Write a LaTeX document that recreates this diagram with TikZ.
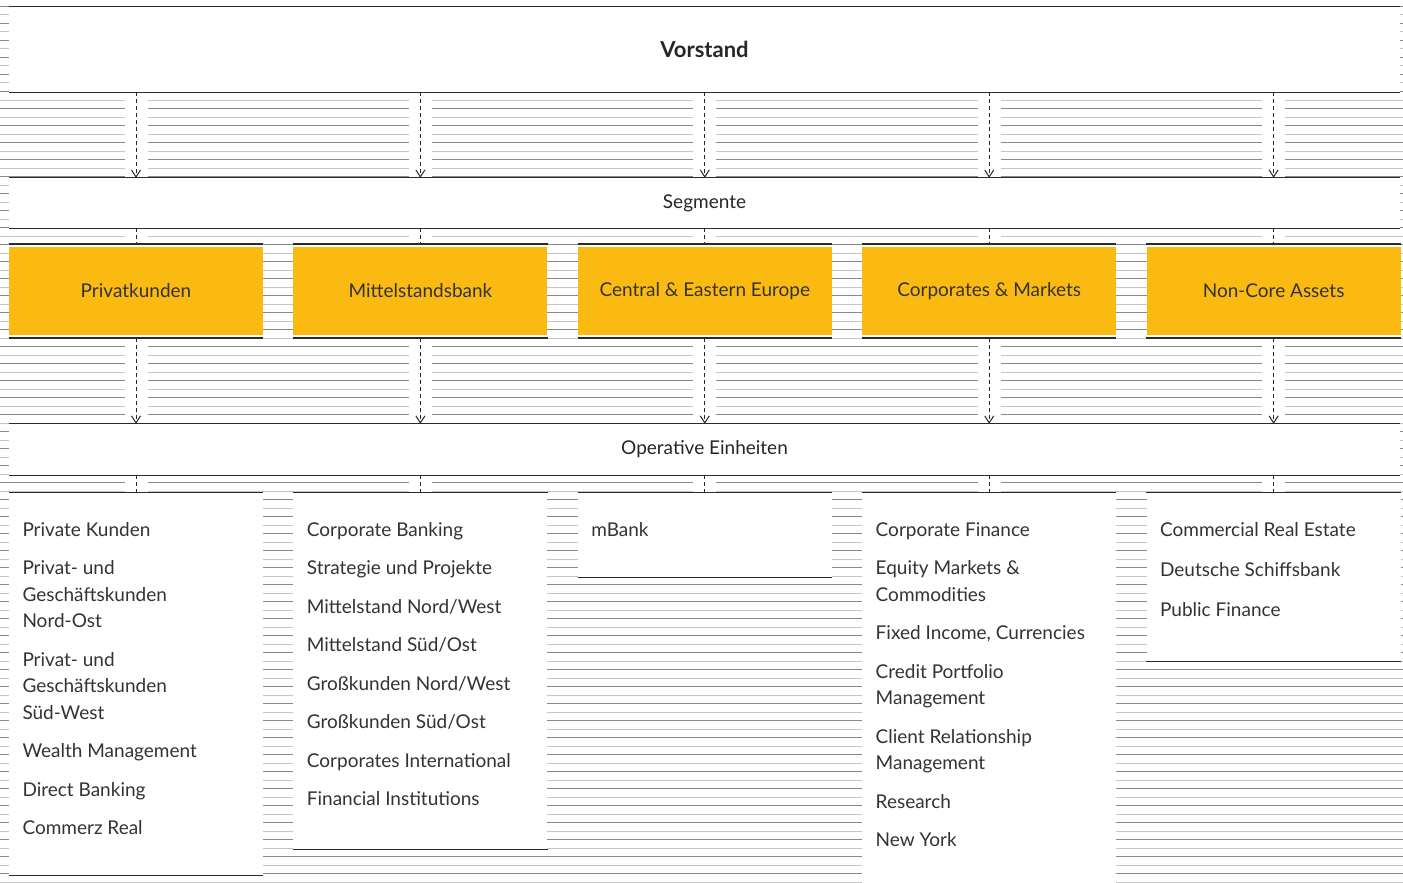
\documentclass[tikz,border=0pt]{standalone}
\usepackage{fontspec}
\setmainfont{Lato}
\usepackage{xcolor}
\usepackage{tikz}
\usetikzlibrary{arrows.meta,positioning,calc}

\definecolor{cbyellow}{HTML}{FBBA12}
\definecolor{hatchlight}{HTML}{C4C4C4}
\definecolor{hatchdark}{HTML}{8A8A8A}
\definecolor{rulegray}{HTML}{2A2A2A}

\begin{document}
\begin{tikzpicture}[x=1pt, y=-1pt, font=\fontsize{19}{26.5}\selectfont,
    band/.style={rectangle, fill=white, inner sep=0pt, minimum width=1391pt, text=black!85},
    unit/.style={rectangle, fill=cbyellow, inner sep=0pt, minimum width=254pt, minimum height=88pt, outer ysep=3pt, text=black!80},
    colbox/.style={rectangle, fill=white, inner sep=0pt, minimum width=254pt, anchor=north},
    coltext/.style={align=left, inner sep=0pt, anchor=north west, text=black!80},
    rule/.style={draw=rulegray, line width=1.2pt},
    flow/.style={draw=black!85, line width=1pt, dash pattern=on 4pt off 3pt,
        preaction={draw=white, solid, line width=23pt, arrows=-}}]

    \useasboundingbox (0,0) rectangle (1403,883);

    % Hatched background
    \foreach \k in {0,...,103}{
        \ifodd\k \def\hc{hatchlight}\else \def\hc{hatchdark}\fi
        \draw[\hc, line width=1pt] (0,{6.5+8.5*\k}) -- (1403,{6.5+8.5*\k});
    }

    % Top levels
    \node[band, minimum height=85pt] (vorstand) at (704.5,49.5) {\fontsize{22}{26}\selectfont\bfseries Vorstand};
    \node[band, minimum height=50pt] (segmente) at (704.5,203) {Segmente};

    % Segments
    \node[unit] (seg1) at (136,291) {Privatkunden};
    \node[unit, right=30pt of seg1] (seg2) {Mittelstandsbank};
    \node[unit, right=30pt of seg2] (seg3) {Central \& Eastern Europe};
    \node[unit, right=30pt of seg3] (seg4) {Corporates \& Markets};
    \node[unit, right=30pt of seg4] (seg5) {Non-Core Assets};

    \node[band, minimum height=51pt] (oper) at (704.5,449.5) {Operative Einheiten};

    % Operative units
    \node[colbox, minimum height=383pt] (col1) at ($(seg1 |- oper.south)+(0,17)$) {};
    \node[colbox, minimum height=357pt] (col2) at ($(seg2 |- oper.south)+(0,17)$) {};
    \node[colbox, minimum height=85pt] (col3) at ($(seg3 |- oper.south)+(0,17)$) {};
    \node[colbox, minimum height=410pt] (col4) at ($(seg4 |- oper.south)+(0,17)$) {};
    \node[colbox, minimum height=169pt] (col5) at ($(seg5 |- oper.south)+(0,17)$) {};

    \node[coltext] (txt1) at ([xshift=13.5pt, yshift=-30pt]col1.north west)
        {Private Kunden\\[12pt]Privat- und\\Geschäftskunden\\Nord-Ost\\[12pt]Privat- und\\Geschäftskunden\\Süd-West\\[12pt]Wealth Management\\[12pt]Direct Banking\\[12pt]Commerz Real};
    \node[coltext] (txt2) at ([xshift=13.5pt, yshift=-30pt]col2.north west)
        {Corporate Banking\\[12pt]Strategie und Projekte\\[12pt]Mittelstand Nord/West\\[12pt]Mittelstand Süd/Ost\\[12pt]Großkunden Nord/West\\[12pt]Großkunden Süd/Ost\\[12pt]Corporates International\\[12pt]Financial Institutions};
    \node[coltext] (txt3) at ([xshift=13.5pt, yshift=-30pt]col3.north west) {mBank};
    \node[coltext] (txt4) at ([xshift=13.5pt, yshift=-30pt]col4.north west)
        {Corporate Finance\\[12pt]Equity Markets \&\\Commodities\\[12pt]Fixed Income, Currencies\\[12pt]Credit Portfolio\\Management\\[12pt]Client Relationship\\Management\\[12pt]Research\\[12pt]New York};
    \node[coltext] (txt5) at ([xshift=13.5pt, yshift=-30pt]col5.north west)
        {Commercial Real Estate\\[13.5pt]Deutsche Schiffsbank\\[13.5pt]Public Finance};

    % Dashed links
    \foreach \i in {1,...,5}{
        \draw[flow, -{Straight Barb[length=7pt, width=9pt]}] (vorstand.south -| seg\i) -- (segmente.north -| seg\i);
        \draw[flow] (segmente.south -| seg\i) -- (seg\i.north);
        \draw[flow, -{Straight Barb[length=7pt, width=9pt]}] (seg\i.south) -- (oper.north -| seg\i);
        \draw[flow] (oper.south -| seg\i) -- (col\i.north);
    }

    % Rules
    \foreach \n in {vorstand,segmente,oper,seg1,seg2,seg3,seg4,seg5}
        \draw[rule] (\n.north west) -- (\n.north east) (\n.south west) -- (\n.south east);
    \foreach \n in {col1,col2,col3,col4,col5}
        \draw[rule] (\n.north west) -- (\n.north east);
    \foreach \n in {col1,col2,col3,col5}
        \draw[rule] (\n.south west) -- (\n.south east);

\end{tikzpicture}
\end{document}
